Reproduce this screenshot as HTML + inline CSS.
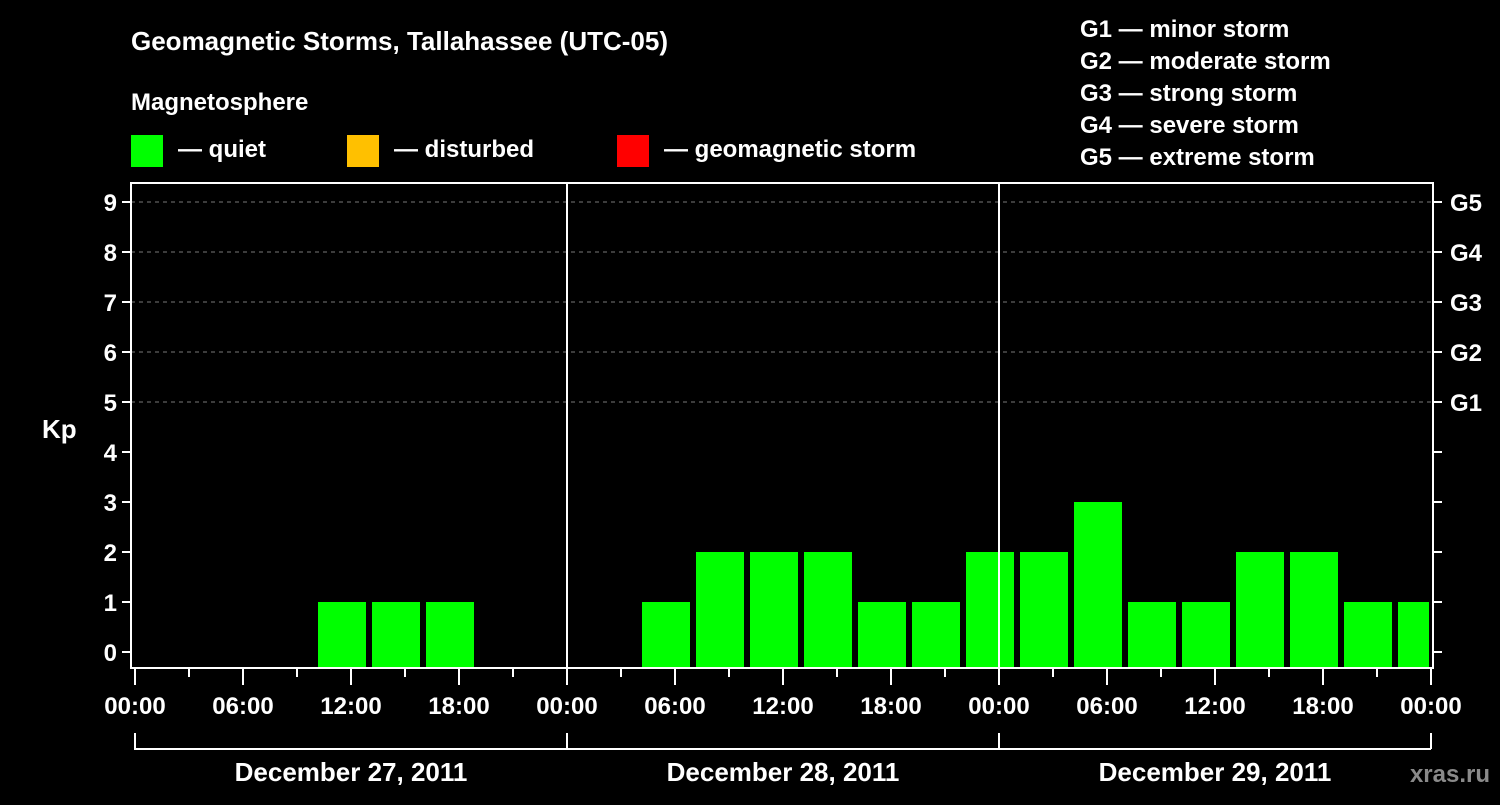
<!DOCTYPE html>
<html><head><meta charset="utf-8"><style>
body{margin:0;background:#000;}
svg text{font-family:"Liberation Sans",Arial,sans-serif;font-weight:bold;fill:#fff;}
</style></head><body>
<svg width="1500" height="800" xmlns="http://www.w3.org/2000/svg">
<rect width="1500" height="800" fill="#000"/>
<text x="131" y="50" font-size="26">Geomagnetic Storms, Tallahassee (UTC-05)</text>
<text x="131" y="110" font-size="24">Magnetosphere</text>
<g><rect x="131" y="135" width="32" height="32" fill="#00ff00"/><text x="178" y="157" font-size="24">— quiet</text></g>
<g><rect x="347" y="135" width="32" height="32" fill="#ffc000"/><text x="394" y="157" font-size="24">— disturbed</text></g>
<g><rect x="617" y="135" width="32" height="32" fill="#ff0000"/><text x="664" y="157" font-size="24">— geomagnetic storm</text></g>
<g font-size="24">
<text x="1080" y="37">G1 — minor storm</text>
<text x="1080" y="69">G2 — moderate storm</text>
<text x="1080" y="101">G3 — strong storm</text>
<text x="1080" y="133">G4 — severe storm</text>
<text x="1080" y="165">G5 — extreme storm</text>
</g>
<text x="42" y="438" font-size="26">Kp</text>
<text x="1490" y="782" font-size="24" text-anchor="end" fill="#888" style="fill:#8a8a8a">xras.ru</text>
<g id="grid"></g><g id="bars"></g><g id="axes"></g>
</svg>
<script>
const kpTicks=[0,1,2,3,4,5,6,7,8,9];
const gLabels=["G1","G2","G3","G4","G5"];
const dayLabels=["December 27, 2011","December 28, 2011","December 29, 2011"];
const timeLabels=["00:00","06:00","12:00","18:00"];
const slotStartHour=1; // local hour of first 3h slot on Dec 27
const kpValues=[null,null,null,1,1,1,null,null, null,1,2,2,2,1,1,2, 2,3,1,1,2,2,1,1];
const NS="http://www.w3.org/2000/svg";
const X0=135,PXH=18,TOTALH=72,Y0=652,PXK=50,LEFT=131,RIGHT=1433,TOP=183,BOT=668;
const x=h=>X0+h*PXH, y=k=>Y0-k*PXK;
function mk(tag,at,parent){const e=document.createElementNS(NS,tag);for(const k in at)e.setAttribute(k,at[k]);document.getElementById(parent).appendChild(e);return e;}
// grid
for(let k=5;k<=9;k++){const l=mk('line',{x1:LEFT,x2:RIGHT,y1:y(k),y2:y(k),stroke:'#777','stroke-dasharray':'4,4','stroke-width':1},'grid');

}
// bars
kpValues.forEach((v,i)=>{if(v==null)return;const h0=slotStartHour+i*3;const h1=Math.min(h0+3,TOTALH);
const r=mk('rect',{x:x(h0)+3,y:y(v),width:Math.max(0,x(h1)-x(h0)-(h1<h0+3?5:6)),height:BOT-y(v),fill:v>=5?'#ff0000':(v>=4?'#ffc000':'#00ff00')},'bars');

});
// frame
const f=mk('rect',{x:LEFT,y:TOP,width:RIGHT-LEFT,height:BOT-TOP,fill:'none',stroke:'#fff','stroke-width':2},'axes');


for(let d=1;d<3;d++){const l=mk('line',{x1:x(d*24),x2:x(d*24),y1:TOP,y2:BOT,stroke:'#fff','stroke-width':2},'axes');

}
kpTicks.forEach(k=>{mk('line',{x1:LEFT-9,x2:LEFT,y1:y(k),y2:y(k),stroke:'#fff','stroke-width':2},'axes');
mk('line',{x1:RIGHT,x2:RIGHT+9,y1:y(k),y2:y(k),stroke:'#fff','stroke-width':2},'axes');
const t=mk('text',{x:LEFT-14,y:y(k)+9,'font-size':24,'text-anchor':'end'},'axes');t.textContent=k;

});
gLabels.forEach((g,i)=>{const t=mk('text',{x:1450,y:y(5+i)+9,'font-size':24},'axes');t.textContent=g;

});
for(let h=0;h<=TOTALH;h+=3){const maj=h%6==0;mk('line',{x1:x(h),x2:x(h),y1:BOT,y2:BOT+(maj?17:9),stroke:'#fff','stroke-width':2},'axes');
if(maj){const t=mk('text',{x:x(h),y:714,'font-size':24,'text-anchor':'middle'},'axes');t.textContent=timeLabels[(h%24)/6];

}}
dayLabels.forEach((d,i)=>{mk('path',{d:`M${x(i*24)},733V749H${x(i*24+24)}`,fill:'none',stroke:'#fff','stroke-width':2},'axes');
const t=mk('text',{x:x(i*24+12),y:781,'font-size':26,'text-anchor':'middle'},'axes');t.textContent=d;

});
mk('line',{x1:x(72),x2:x(72),y1:733,y2:749,stroke:'#fff','stroke-width':2},'axes');
</script>
</body></html>
